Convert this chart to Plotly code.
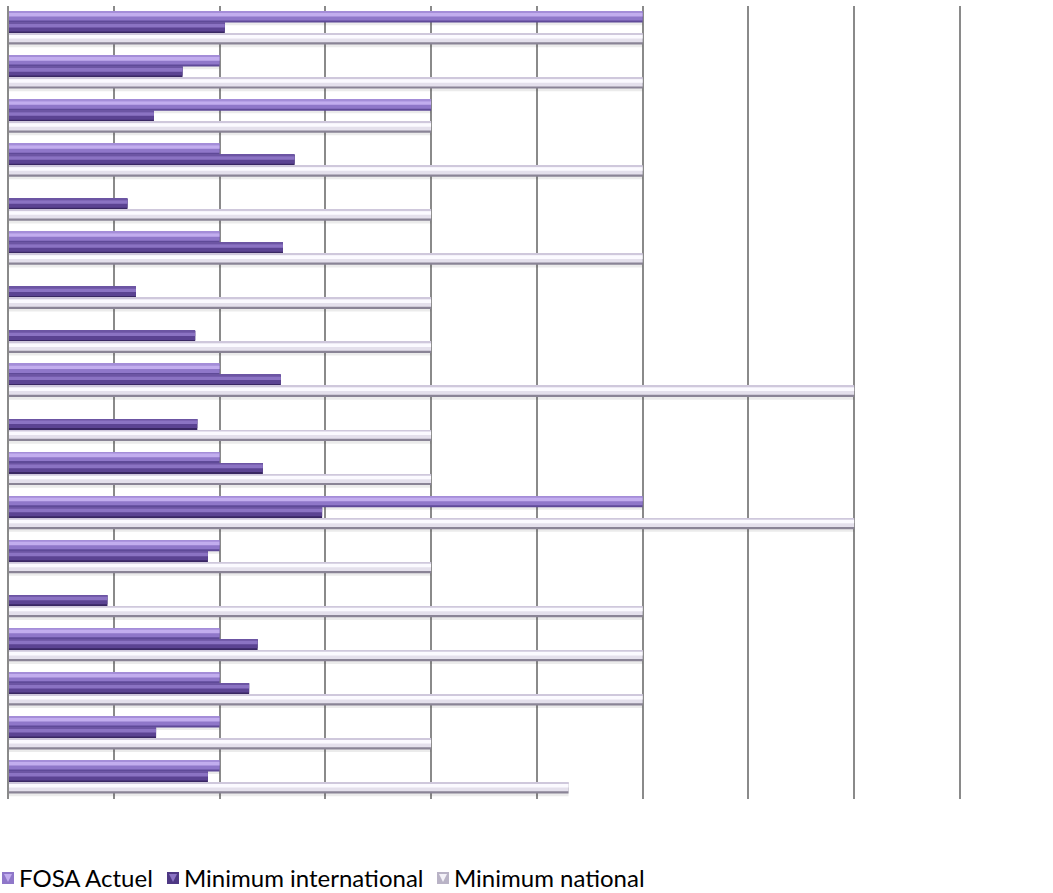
import plotly.graph_objects as go

# 18 facility rows, top to bottom
rows = list(range(1, 19))

fosa_actuel = [6, 2, 4, 2, 0, 2, 0, 0, 2, 0, 2, 6, 2, 0, 2, 2, 2, 2]
minimum_international = [2.05, 1.65, 1.38, 2.71, 1.13, 2.6, 1.21, 1.77, 2.58,
                         1.79, 2.41, 2.97, 1.89, 0.94, 2.36, 2.28, 1.40, 1.89]
minimum_national = [6, 6, 4, 6, 4, 6, 4, 4, 8, 4, 4, 8, 4, 6, 6, 6, 4, 5.3]

series_names = ["FOSA Actuel", "Minimum international", "Minimum national"]
series_values = [fosa_actuel, minimum_international, minimum_national]

W, H = 1053, 893
M_L, M_R, M_T, M_B = 8, 91, 6, 94
X_MAX = 9.02

BAR_W = 0.25
# vertical slot of each series inside a row (reversed axis: smaller = higher)
slot_offsets = [-0.375, -0.125, 0.125]

# bevel stripes per series: (top fraction, bottom fraction, colour)
bevels = [
    [(0.0, 1.0, "#5f4a98"), (0.0, 0.82, "#8f77c9"), (0.0, 0.12, "#a48dd8"),
     (0.14, 0.46, "#c2adee")],
    [(0.0, 1.0, "#392763"), (0.0, 0.82, "#5b4392"), (0.0, 0.12, "#6c55a3"),
     (0.14, 0.46, "#8b73c3")],
    [(0.0, 1.0, "#8a8496"), (0.0, 0.8, "#e4e0ec"), (0.0, 0.12, "#cfc8dc"),
     (0.14, 0.46, "#fbfaff")],
]
key_fill = ["#8f77c9", "#4e3884", "#b9b3c6"]
key_light = ["#c2adee", "#8b73c3", "#f4f2f8"]

fig = go.Figure()

# soft drop shadows under every bar
for k, vals in enumerate(series_values):
    fig.add_trace(go.Bar(
        y=rows, x=vals, orientation="h",
        offset=slot_offsets[k] + 0.06, width=BAR_W,
        marker=dict(color="rgba(60,60,60,0.10)", line=dict(width=0)),
        showlegend=False, hoverinfo="skip",
    ))

for k, (name, vals) in enumerate(zip(series_names, series_values)):
    for a, b, col in bevels[k]:
        fig.add_trace(go.Bar(
            y=rows, x=vals, orientation="h",
            offset=slot_offsets[k] + a * BAR_W, width=(b - a) * BAR_W,
            marker=dict(color=col, line=dict(width=0)),
            name=name, showlegend=False,
            hovertemplate=name + ": %{x}<extra></extra>",
        ))

# legend drawn below the plot: bevelled square key + label for each series
plot_w = W - M_L - M_R
plot_h = H - M_T - M_B


def px_to_paper_x(px):
    return (px - M_L) / plot_w


def px_to_paper_y(py):
    return (H - M_B - py) / plot_h


legend_y = 878
key_x = [2, 167, 437]
KEY = 12
shapes = [dict(type="line", xref="paper", yref="paper", x0=0, x1=0,
               y0=0, y1=1, line=dict(color="#8a8a8a", width=2))]
annotations = []
for k, name in enumerate(series_names):
    x0 = key_x[k]
    top, bot = legend_y - KEY / 2, legend_y + KEY / 2
    shapes.append(dict(
        type="rect", xref="paper", yref="paper",
        x0=px_to_paper_x(x0), x1=px_to_paper_x(x0 + KEY),
        y0=px_to_paper_y(bot), y1=px_to_paper_y(top),
        fillcolor=key_fill[k], line=dict(width=0),
    ))
    # lighter inner face of the key
    pts = [(x0 + 2, top + 2), (x0 + KEY - 2, top + 2),
           (x0 + KEY / 2, bot - 2)]
    path = "M " + " L ".join(
        f"{px_to_paper_x(px):.5f},{px_to_paper_y(py):.5f}" for px, py in pts
    ) + " Z"
    shapes.append(dict(type="path", xref="paper", yref="paper", path=path,
                       fillcolor=key_light[k], line=dict(width=0)))
    annotations.append(dict(
        xref="paper", yref="paper", x=px_to_paper_x(x0 + 15),
        y=px_to_paper_y(legend_y), xanchor="left", yanchor="middle",
        text=name, showarrow=False,
        font=dict(family="Lato, sans-serif", size=24, color="#000000"),
    ))

fig.update_layout(
    width=W, height=H,
    margin=dict(l=M_L, r=M_R, t=M_T, b=M_B),
    paper_bgcolor="white", plot_bgcolor="white",
    barmode="overlay",
    showlegend=False,
    xaxis=dict(range=[0, X_MAX], dtick=1, showgrid=True, gridcolor="#8a8a8a",
               gridwidth=2, showticklabels=False, zeroline=False,
               showline=False, ticks=""),
    yaxis=dict(range=[18.5, 0.5], showticklabels=False, showgrid=False,
               zeroline=False, showline=False, ticks=""),
    shapes=shapes,
    annotations=annotations,
)

fig.write_html("out.html")
